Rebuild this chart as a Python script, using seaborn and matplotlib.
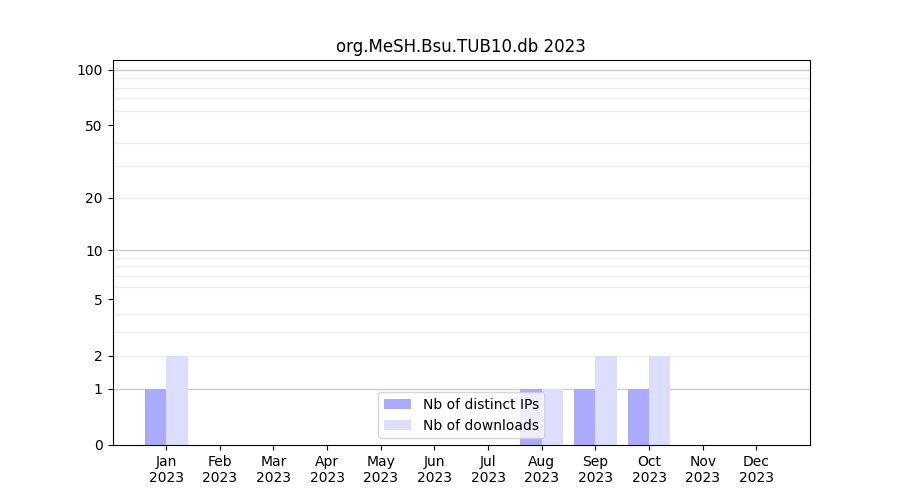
import numpy as np
import pandas as pd
import matplotlib
matplotlib.use("Agg")
import matplotlib.pyplot as plt
import seaborn as sns

months = ["Jan", "Feb", "Mar", "Apr", "May", "Jun",
          "Jul", "Aug", "Sep", "Oct", "Nov", "Dec"]
year = "2023"
distinct_ips = [1, 0, 0, 0, 0, 0, 0, 1, 1, 1, 0, 0]
downloads = [2, 0, 0, 0, 0, 0, 0, 1, 2, 2, 0, 0]
y_ticks = [0, 1, 2, 5, 10, 20, 50, 100]

labels = [m + "\n" + year for m in months]
df = pd.DataFrame({
    "month": labels * 2,
    "value": distinct_ips + downloads,
    "serie": ["Nb of distinct IPs"] * 12 + ["Nb of downloads"] * 12,
})

fig, ax = plt.subplots(figsize=(9, 5), dpi=100)

# grille façon log(1+y)
for v in [2, 3, 4, 6, 7, 8, 9, 20, 30, 40, 60, 70, 80, 90]:
    ax.axhline(v, color="#ececec", lw=0.8, zorder=0)
for v in [1, 10, 100]:
    ax.axhline(v, color="#cccccc", lw=1.0, zorder=0)

sns.barplot(data=df, x="month", y="value", hue="serie", order=labels,
            palette=["#aaaaff", "#ddddff"], saturation=1, linewidth=0,
            width=0.8, ax=ax, zorder=2)

ax.set_yscale("function", functions=(lambda y: np.log10(1 + np.clip(y, 0, None)),
                                     lambda t: 10 ** t - 1))
ax.set_ylim(0, 113)
ax.set_yticks(y_ticks)
ax.set_yticklabels([str(t) for t in y_ticks])
ax.minorticks_off()
ax.set_xlim(-1, 12)
ax.set_xlabel("")
ax.set_ylabel("")
ax.set_title("org.MeSH.Bsu.TUB10.db 2023")

h, l = ax.get_legend_handles_labels()
ax.legend(h, l, loc="lower center")

fig.savefig("out.png")
